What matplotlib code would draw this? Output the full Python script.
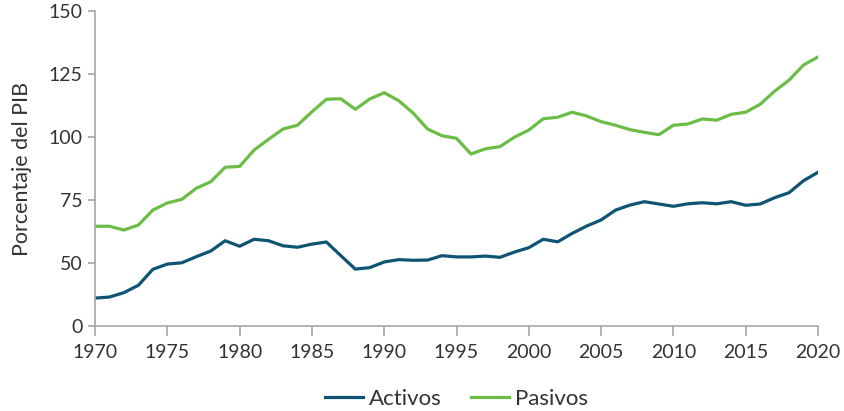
import matplotlib
matplotlib.use('Agg')
import matplotlib.pyplot as plt

years = list(range(1970, 2021))

activos = [13.3, 13.8, 15.9, 19.4, 27.0, 29.5, 30.1, 33.0, 35.7, 40.6,
           38.0, 41.3, 40.6, 38.2, 37.5, 39.0, 40.0, 33.5, 27.1, 27.8,
           30.5, 31.6, 31.3, 31.4, 33.5, 32.9, 32.9, 33.3, 32.7, 35.2,
           37.3, 41.3, 40.1, 44.1, 47.6, 50.5, 55.2, 57.6, 59.2, 58.1,
           57.0, 58.2, 58.7, 58.2, 59.2, 57.5, 58.1, 61.1, 63.5, 69.2, 73.2]

pasivos = [47.5, 47.5, 45.7, 48.1, 55.2, 58.6, 60.3, 65.6, 68.7, 75.6,
           76.0, 83.8, 88.9, 93.8, 95.6, 102.0, 108.0, 108.2, 103.2, 108.1,
           111.1, 107.3, 101.4, 93.8, 90.6, 89.4, 81.9, 84.4, 85.4, 89.9,
           93.3, 98.7, 99.4, 101.8, 100.0, 97.3, 95.6, 93.5, 92.2, 91.1,
           95.6, 96.2, 98.6, 98.0, 100.8, 101.8, 105.6, 111.8, 117.1, 124.3, 128.1]

# etiquetas del eje y tal como aparecen en el original
yticks = [0, 30, 60, 90, 120, 150]
yticklabels = ['0', '50', '75', '100', '125', '150']
xticks = list(range(1970, 2021, 5))

plt.rcParams['font.family'] = ['Lato', 'DejaVu Sans']
texto = '#333333'
gris = '#a6a6a6'

fig = plt.figure(figsize=(8.44, 4.11), dpi=100)
ax = fig.add_axes([0.1126, 0.2068, 0.8566, 0.7664])

ax.plot(years, activos, color='#0d5475', lw=2.3, label='Activos')
ax.plot(years, pasivos, color='#6cbd45', lw=2.3, label='Pasivos')

ax.set_xlim(1970, 2020)
ax.set_ylim(0, 150)
ax.set_xticks(xticks)
ax.set_yticks(yticks)
ax.set_yticklabels(yticklabels)

for s in ['top', 'right']:
    ax.spines[s].set_visible(False)
for s in ['left', 'bottom']:
    ax.spines[s].set_color(gris)
    ax.spines[s].set_linewidth(1.2)

ax.tick_params(axis='x', direction='out', length=7, width=1.2, color=gris,
               labelsize=14, labelcolor=texto, pad=6)
ax.tick_params(axis='y', direction='out', length=5, width=1.2, color=gris,
               labelsize=14, labelcolor=texto, pad=4)
ax.set_ylabel('Porcentaje del PIB', fontsize=15.5, color=texto, labelpad=12)

ax.legend(loc='upper center', bbox_to_anchor=(0.5, -0.135), ncol=2, frameon=False,
          fontsize=16, labelcolor=texto, handlelength=1.7, handletextpad=0.3,
          columnspacing=1.3)

fig.savefig('out.png', dpi=100)
